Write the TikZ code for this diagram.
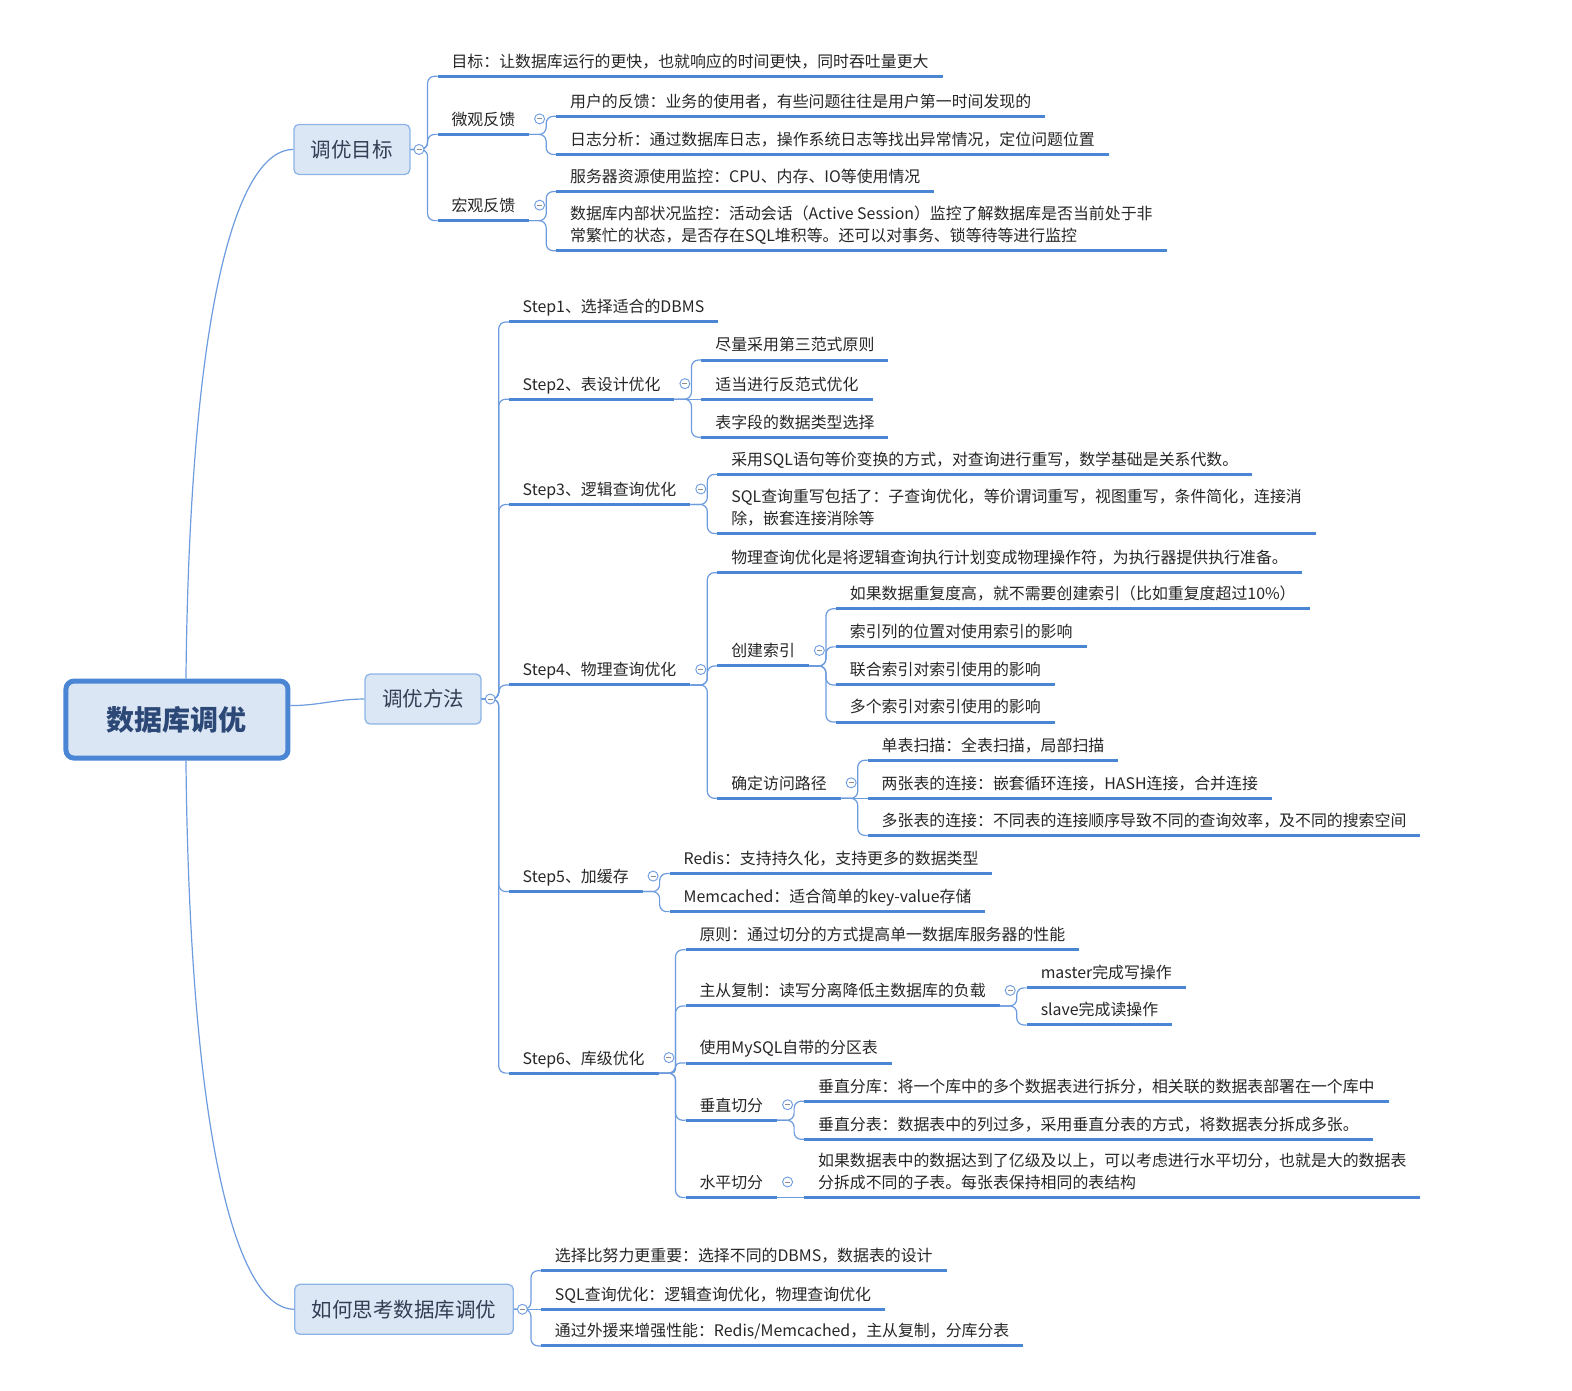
\documentclass[tikz,border=0pt]{standalone}
\usepackage{fontspec}
\setmainfont{Noto Sans CJK SC}
\usepackage{tikz}
\usetikzlibrary{positioning}
\definecolor{lineblue}{RGB}{74,134,212}
\definecolor{connblue}{RGB}{108,155,222}
\definecolor{boxline}{RGB}{140,180,230}
\definecolor{boxfill}{RGB}{220,231,245}
\definecolor{rootfill}{RGB}{219,230,244}
\definecolor{rootink}{RGB}{44,72,118}
\definecolor{topicink}{RGB}{50,62,84}
\newcommand{\leaffont}{\fontsize{15.9}{22}\selectfont}
\newcommand{\topicfont}{\fontsize{20.5}{24}\selectfont}
\newcommand{\rootfont}{\fontsize{28}{32}\selectfont\bfseries}
\tikzset{
  dbroot/.style={draw=lineblue, fill=rootfill, line width=5pt, rounded corners=8pt,
                 minimum width=222pt, minimum height=77pt, font=\rootfont, text=rootink},
  topic/.style={draw=boxline, fill=boxfill, line width=1.3pt, rounded corners=5pt,
                minimum height=50pt, inner xsep=17pt, font=\topicfont, text=topicink},
  uline/.style={draw=lineblue, line width=3pt},
  leaf/.style={anchor=south west, inner xsep=14pt, inner ysep=2.5pt, outer sep=0pt,
               align=left, font=\leaffont, text=black!85,
               execute at begin node=\strut, execute at end node=\strut,
               append after command={(\tikzlastnode.south west) edge[uline] (\tikzlastnode.south east)}},
  conn/.style={draw=connblue, line width=1.2pt, rounded corners=7pt},
  fold/.style={circle, draw=connblue, fill=white, line width=0.9pt, minimum size=10pt, inner sep=0pt,
               path picture={\draw[black!45, line width=0.8pt]
                 ([xshift=-2.5pt]path picture bounding box.center) -- ([xshift=2.5pt]path picture bounding box.center);}},
}
\begin{document}
\begin{tikzpicture}[x=1.0026pt, y=-1.0029pt]
  \useasboundingbox (0pt,0pt) rectangle (1572pt,-1390pt);

  % ── centre and main topics ─────────────────────────────
  \node[dbroot] (db) at (176.5,717.5) {数据库调优};
  \node[topic] (goal) at (351,149) {调优目标};
  \node[topic] (method) at (422,697) {调优方法};
  \node[topic] (think) at (403,1305.5) {如何思考数据库调优};
  \draw[conn] ([xshift=9pt]db.north) .. controls +(4,-377) and +(-55,0) .. (goal.west);
  \draw[conn] ([xshift=9pt]db.south) .. controls +(4,390) and +(-55,0) .. (think.west);
  \draw[conn] ([yshift=14pt]db.east) to[out=0,in=180] (method.west);

  % ── 调优目标 ───────────────────────────────────────────
  \coordinate (goalk) at ([xshift=17pt]goal.east);
  \node[leaf, xshift=10pt] (g1) at (goalk |- 0,76) {目标：让数据库运行的更快，也就响应的时间更快，同时吞吐量更大};
  \node[leaf, xshift=10pt] (g2) at (goalk |- 0,134) {微观反馈};
  \node[leaf, xshift=10pt] (g3) at (goalk |- 0,220) {宏观反馈};
  \foreach \c in {g1,g2,g3} \draw[conn] (goal.east) -- (goalk) |- (\c.south west);
  \node[fold, right=3pt of goal] (goalf) {};

  \coordinate (g2k) at ([xshift=17pt]g2.south east);
  \node[leaf, xshift=10pt] (g21) at (g2k |- 0,116) {用户的反馈：业务的使用者，有些问题往往是用户第一时间发现的};
  \node[leaf, xshift=10pt] (g22) at (g2k |- 0,154) {日志分析：通过数据库日志，操作系统日志等找出异常情况，定位问题位置};
  \foreach \c in {g21,g22} \draw[conn] (g2.south east) -- (g2k) |- (\c.south west);
  \node[fold, right=5pt of g2, yshift=2pt] (g2f) {};

  \coordinate (g3k) at ([xshift=17pt]g3.south east);
  \node[leaf, xshift=10pt] (g31) at (g3k |- 0,191) {服务器资源使用监控：CPU、内存、IO等使用情况};
  \node[leaf, xshift=10pt] (g32) at (g3k |- 0,250) {数据库内部状况监控：活动会话（Active Session）监控了解数据库是否当前处于非\\常繁忙的状态，是否存在SQL堆积等。还可以对事务、锁等待等进行监控};
  \foreach \c in {g31,g32} \draw[conn] (g3.south east) -- (g3k) |- (\c.south west);
  \node[fold, right=5pt of g3, yshift=2pt] (g3f) {};

  % ── 调优方法 ───────────────────────────────────────────
  \coordinate (methodk) at ([xshift=17pt]method.east);
  \node[leaf, xshift=10pt] (s1) at (methodk |- 0,321) {Step1、选择适合的DBMS};
  \node[leaf, xshift=10pt] (s2) at (methodk |- 0,398) {Step2、表设计优化};
  \node[leaf, xshift=10pt] (s3) at (methodk |- 0,503) {Step3、逻辑查询优化};
  \node[leaf, xshift=10pt] (s4) at (methodk |- 0,683) {Step4、物理查询优化};
  \node[leaf, xshift=10pt] (s5) at (methodk |- 0,889) {Step5、加缓存};
  \node[leaf, xshift=10pt] (s6) at (methodk |- 0,1070) {Step6、库级优化};
  \foreach \c in {s1,s2,s3,s4,s5,s6} \draw[conn] (method.east) -- (methodk) |- (\c.south west);
  \node[fold, right=3pt of method] (methodf) {};

  % step 2
  \coordinate (s2k) at ([xshift=17pt]s2.south east);
  \node[leaf, xshift=10pt] (s21) at (s2k |- 0,359) {尽量采用第三范式原则};
  \node[leaf, xshift=10pt] (s22) at (s2k) {适当进行反范式优化};
  \node[leaf, xshift=10pt] (s23) at (s2k |- 0,436) {表字段的数据类型选择};
  \foreach \c in {s21,s23} \draw[conn] (s2.south east) -- (s2k) |- (\c.south west);
  \draw[conn] (s2.south east) -- (s22.south west);
  \node[fold, right=5pt of s2, yshift=2pt] (s2f) {};

  % step 3
  \coordinate (s3k) at ([xshift=17pt]s3.south east);
  \node[leaf, xshift=10pt] (s31) at (s3k |- 0,473) {采用SQL语句等价变换的方式，对查询进行重写，数学基础是关系代数。};
  \node[leaf, xshift=10pt] (s32) at (s3k |- 0,532) {SQL查询重写包括了：子查询优化，等价谓词重写，视图重写，条件简化，连接消\\除，嵌套连接消除等};
  \foreach \c in {s31,s32} \draw[conn] (s3.south east) -- (s3k) |- (\c.south west);
  \node[fold, right=5pt of s3, yshift=2pt] (s3f) {};

  % step 4
  \coordinate (s4k) at ([xshift=17pt]s4.south east);
  \node[leaf, xshift=10pt] (s41) at (s4k |- 0,571) {物理查询优化是将逻辑查询执行计划变成物理操作符，为执行器提供执行准备。};
  \node[leaf, xshift=10pt] (s42) at (s4k |- 0,664) {创建索引};
  \node[leaf, xshift=10pt] (s43) at (s4k |- 0,796) {确定访问路径};
  \foreach \c in {s41,s42,s43} \draw[conn] (s4.south east) -- (s4k) |- (\c.south west);
  \node[fold, right=5pt of s4, yshift=2pt] (s4f) {};

  \coordinate (s42k) at ([xshift=17pt]s42.south east);
  \node[leaf, xshift=10pt] (s421) at (s42k |- 0,607) {如果数据重复度高，就不需要创建索引（比如重复度超过10\%）};
  \node[leaf, xshift=10pt] (s422) at (s42k |- 0,645) {索引列的位置对使用索引的影响};
  \node[leaf, xshift=10pt] (s423) at (s42k |- 0,683) {联合索引对索引使用的影响};
  \node[leaf, xshift=10pt] (s424) at (s42k |- 0,720) {多个索引对索引使用的影响};
  \foreach \c in {s421,s422,s423,s424} \draw[conn] (s42.south east) -- (s42k) |- (\c.south west);
  \node[fold, right=5pt of s42, yshift=2pt] (s42f) {};

  \coordinate (s43k) at ([xshift=17pt]s43.south east);
  \node[leaf, xshift=10pt] (s431) at (s43k |- 0,758) {单表扫描：全表扫描，局部扫描};
  \node[leaf, xshift=10pt] (s432) at (s43k) {两张表的连接：嵌套循环连接，HASH连接，合并连接};
  \node[leaf, xshift=10pt] (s433) at (s43k |- 0,833) {多张表的连接：不同表的连接顺序导致不同的查询效率，及不同的搜索空间};
  \foreach \c in {s431,s433} \draw[conn] (s43.south east) -- (s43k) |- (\c.south west);
  \draw[conn] (s43.south east) -- (s432.south west);
  \node[fold, right=5pt of s43, yshift=2pt] (s43f) {};

  % step 5
  \coordinate (s5k) at ([xshift=17pt]s5.south east);
  \node[leaf, xshift=10pt] (s51) at (s5k |- 0,871) {Redis：支持持久化，支持更多的数据类型};
  \node[leaf, xshift=10pt] (s52) at (s5k |- 0,909) {Memcached：适合简单的key-value存储};
  \foreach \c in {s51,s52} \draw[conn] (s5.south east) -- (s5k) |- (\c.south west);
  \node[fold, right=5pt of s5, yshift=2pt] (s5f) {};

  % step 6
  \coordinate (s6k) at ([xshift=17pt]s6.south east);
  \node[leaf, xshift=10pt] (s61) at (s6k |- 0,947) {原则：通过切分的方式提高单一数据库服务器的性能};
  \node[leaf, xshift=10pt] (s62) at (s6k |- 0,1003) {主从复制：读写分离降低主数据库的负载};
  \node[leaf, xshift=10pt] (s63) at (s6k |- 0,1060) {使用MySQL自带的分区表};
  \node[leaf, xshift=10pt] (s64) at (s6k |- 0,1117) {垂直切分};
  \node[leaf, xshift=10pt] (s65) at (s6k |- 0,1194) {水平切分};
  \foreach \c in {s61,s62,s64,s65} \draw[conn] (s6.south east) -- (s6k) |- (\c.south west);
  \draw[conn, rounded corners=4pt] (s6.south east) -- (s6k) |- (s63.south west);
  \node[fold, right=5pt of s6, yshift=2pt] (s6f) {};

  \coordinate (s62k) at ([xshift=17pt]s62.south east);
  \node[leaf, xshift=10pt] (s621) at (s62k |- 0,985) {master完成写操作};
  \node[leaf, xshift=10pt] (s622) at (s62k |- 0,1022) {slave完成读操作};
  \foreach \c in {s621,s622} \draw[conn] (s62.south east) -- (s62k) |- (\c.south west);
  \node[fold, right=5pt of s62, yshift=2pt] (s62f) {};

  \coordinate (s64k) at ([xshift=17pt]s64.south east);
  \node[leaf, xshift=10pt] (s641) at (s64k |- 0,1098) {垂直分库：将一个库中的多个数据表进行拆分，相关联的数据表部署在一个库中};
  \node[leaf, xshift=10pt] (s642) at (s64k |- 0,1136) {垂直分表：数据表中的列过多，采用垂直分表的方式，将数据表分拆成多张。};
  \foreach \c in {s641,s642} \draw[conn] (s64.south east) -- (s64k) |- (\c.south west);
  \node[fold, right=5pt of s64, yshift=2pt] (s64f) {};

  \coordinate (s65k) at ([xshift=17pt]s65.south east);
  \node[leaf, xshift=10pt] (s651) at (s65k) {如果数据表中的数据达到了亿级及以上，可以考虑进行水平切分，也就是大的数据表\\分拆成不同的子表。每张表保持相同的表结构};
  \draw[conn] (s65.south east) -- (s651.south west);
  \node[fold, right=5pt of s65, yshift=2pt] (s65f) {};

  % ── 如何思考数据库调优 ─────────────────────────────────
  \coordinate (thinkk) at ([xshift=17pt]think.east);
  \node[leaf, xshift=10pt] (t1) at (thinkk |- 0,1267) {选择比努力更重要：选择不同的DBMS，数据表的设计};
  \node[leaf, xshift=10pt] (t2) at (thinkk) {SQL查询优化：逻辑查询优化，物理查询优化};
  \node[leaf, xshift=10pt] (t3) at (thinkk |- 0,1342) {通过外援来增强性能：Redis/Memcached，主从复制，分库分表};
  \foreach \c in {t1,t3} \draw[conn] (think.east) -- (thinkk) |- (\c.south west);
  \draw[conn] (think.east) -- (t2.south west);
  \node[fold, right=3pt of think] (thinkf) {};
\end{tikzpicture}
\end{document}
